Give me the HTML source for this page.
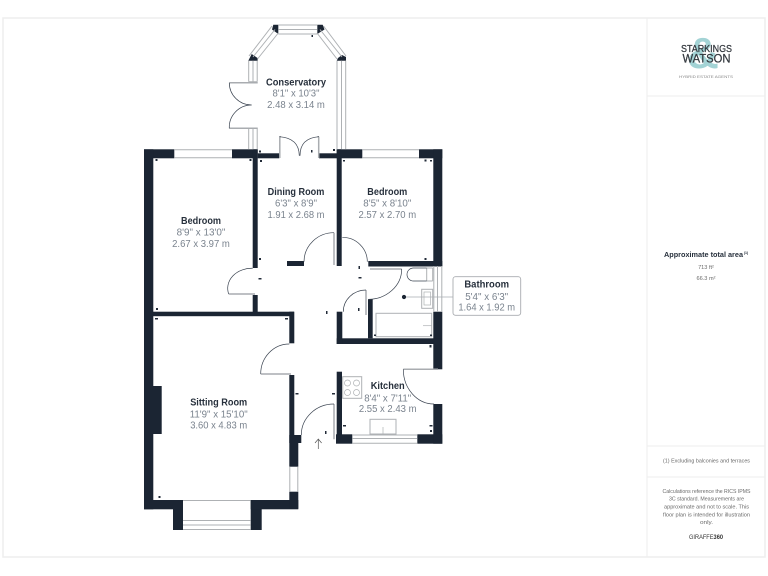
<!DOCTYPE html>
<html><head><meta charset="utf-8"><style>
html,body{margin:0;padding:0;background:#fff;width:768px;height:576px;overflow:hidden}
svg{display:block;filter:blur(.35px)}
text{font-family:"Liberation Sans",sans-serif;text-anchor:middle}
.t{font-size:10px;font-weight:bold;fill:#27303c}
.v{font-size:10px;fill:#7a838e}
.p{font-size:5.6px;fill:#6a6a6a}
</style></head><body>
<svg width="768" height="576" viewBox="0 0 768 576" xmlns="http://www.w3.org/2000/svg">
<rect width="768" height="576" fill="#fff"/>
<rect x="3" y="18" width="762" height="539" fill="none" stroke="#eeeeee" stroke-width="1.5"/>
<g stroke="#eeeeee" stroke-width="1"><path d="M647 18V557M647 96H765M647 446H765M647 477H765" fill="none"/></g>

<!-- Walls -->
<g fill="#1b2533">
<rect x="144" y="149.3" width="30.3" height="9"/>
<rect x="232" y="149.3" width="25.7" height="9"/>
<rect x="144" y="149.3" width="9.3" height="360"/>
<rect x="144" y="500" width="39" height="9.3"/>
<rect x="173" y="500" width="10" height="30"/>
<rect x="250.7" y="500" width="11" height="30"/>
<rect x="250.7" y="500" width="47.6" height="9.3"/>
<rect x="289.3" y="491.7" width="9" height="17"/>
<rect x="289.3" y="435" width="9" height="31.7"/>
<rect x="289.3" y="435" width="12" height="8"/>
<rect x="289.3" y="375" width="5" height="60"/>
<rect x="153" y="311.7" width="141" height="4.5"/>
<rect x="289.3" y="311.7" width="5" height="31.6"/>
<rect x="153" y="386" width="8.7" height="48"/>
<rect x="252.7" y="149.3" width="5" height="118.7"/>
<rect x="252.7" y="295" width="5" height="17"/>
<rect x="257.7" y="153.3" width="21.6" height="5"/>
<rect x="319" y="153.3" width="18" height="5"/>
<rect x="336.7" y="149.3" width="5" height="116.7"/>
<rect x="336.7" y="149.3" width="25.6" height="9"/>
<rect x="419" y="149.3" width="23.3" height="9"/>
<rect x="433.3" y="149.3" width="9" height="117"/>
<rect x="368.3" y="261" width="74" height="5.5"/>
<rect x="287" y="261" width="17" height="5"/>
<rect x="433.3" y="311.7" width="9" height="57.6"/>
<rect x="336.7" y="338.3" width="105" height="5.7"/>
<rect x="336.7" y="311.7" width="5.6" height="32.3"/>
<rect x="368" y="299.3" width="4.7" height="39"/>
<rect x="336.7" y="371.7" width="5.3" height="71.6"/>
<rect x="336" y="434.3" width="16.3" height="9.4"/>
<rect x="417.3" y="434.3" width="25" height="9.4"/>
<rect x="433.3" y="404" width="9" height="39.7"/>
<!-- conservatory corners -->
<polygon points="273.3,24.7 278.3,24.7 278.3,34 272,29.5"/>
<polygon points="322.7,24.7 317.3,24.7 317.3,34 324.5,29.5"/>
<polygon points="248.3,60.7 257.7,60.7 257.5,58 251.7,54"/>
<polygon points="336.7,60.7 346,60.7 346,57 342,55 338,58"/>
</g>

<!-- Windows & conservatory -->
<g fill="none" stroke="#aeb1b4" stroke-width="1">
<path d="M174.3 149.8H232M174.3 157.8H232M362.3 149.8H419M362.3 157.8H419"/>
<path d="M352.3 435H417.3M352.3 438.5H417.3M352.3 443.2H417.3"/>
<path d="M183 500.5H250.7M183 520.5H250.7M183 525H250.7M183 529.5H250.7"/>
<path d="M289.8 466.7V491.7M297.8 466.7V491.7"/>
<path d="M433.8 266V312M437.5 266V312M441.8 266V312"/>
<!-- conservatory -->
<path d="M278.3 25H317.3M278.3 29.5H317.3M278.3 34H317.3"/>
<path d="M272 26 249 56M275 29.5 253 57M278.3 33 257.5 59"/>
<path d="M323.5 26 346 56M320 29.5 342 57M317 33 337 59"/>
<path d="M248.7 60.7V81.7M253 60.7V81.7M257.2 60.7V81.7M248.7 81.7H257.2"/>
<path d="M248.7 128.3V149.3M253 128.3V149.3M257.2 128.3V149.3"/>
<path d="M337 60.7V149.3M341.5 60.7V149.3M345.7 60.7V149.3"/>
<!-- fixtures -->
<rect x="342.7" y="376.7" width="19" height="21.6"/>
<circle cx="347.5" cy="383" r="3" stroke-width=".7"/><circle cx="356.5" cy="383" r="3" stroke-width=".7"/>
<circle cx="347.5" cy="392.5" r="3" stroke-width=".7"/><circle cx="356.5" cy="392.5" r="3" stroke-width=".7"/>
<rect x="370" y="419.3" width="26" height="14.7"/>
<path d="M383 427V434" stroke-width=".7"/>
<rect x="376" y="313.3" width="55.7" height="23.4"/>
<path d="M423 325.7H432" stroke-width=".7"/>
<rect x="421.7" y="289.3" width="11" height="19"/>
<rect x="424" y="292" width="6.5" height="13" stroke-width=".7"/>
<path d="M426.7 268V281M432.7 268V281M426.7 268H432.7M426.7 281H432.7"/>
</g>

<!-- Thick door leaves -->
<g fill="none" stroke="#a9acb0" stroke-width="1.5">
<path d="M229.3 82.7H257.7M229.3 128.3H257.7"/>
<path d="M279.8 136.7V158M318.7 136.7V158M279.5 136.7H281M317.5 136.7H319"/>
<path d="M334 232.7V265M228.7 294H255M366 290V315M370 269H401.7M260.7 374H291M403.3 369.3H438M334 404V439.3"/>
</g>
<!-- Door arcs -->
<g fill="none" stroke="#3a4350" stroke-width=".7">
<path d="M229.3 82.7A22.3 22.3 0 0 0 251.7 105A22.3 22.3 0 0 0 229.3 128.3"/>
<path d="M279.3 136.7Q299 138 299.3 155.7M319 136.7Q300 138 300 155.7"/>
<path d="M334 232.7A30 29 0 0 0 304 261.7M342.3 237.3A25 24.4 0 0 1 367.3 261.7"/>
<path d="M252.7 268.3A24 20 0 0 0 228.7 294"/>
<path d="M401.7 269A33.4 30.3 0 0 1 368.3 299.3"/>
<path d="M366 290A22.7 21.7 0 0 0 343.3 311.7"/>
<path d="M289.3 344A28.6 30 0 0 0 260.7 374"/>
<path d="M403.3 369.3A30.7 34.7 0 0 0 434 404"/>
<path d="M334 404A32.7 31 0 0 0 301.3 435"/>
<path d="M407 274.5A6.5 6.5 0 0 0 413.5 281H426.7M407 274.5A6.5 6.5 0 0 1 413 268H426.7"/>
<path d="M318.3 439V449M315 443L318.3 439L321.6 443" stroke="#555"/>
</g>

<!-- Tiny dimension marks -->
<g fill="#222b38">
<rect x="155.5" y="159" width="2" height="2"/><rect x="249.5" y="159" width="2" height="2"/>
<rect x="260" y="160" width="2" height="2"/><rect x="259" y="150.5" width="2" height="2"/>
<rect x="311" y="150" width="1.5" height="2.5"/><rect x="333" y="149" width="2" height="2"/>
<rect x="343" y="160" width="2" height="1.5"/><rect x="424.5" y="159.5" width="2" height="2"/>
<rect x="430" y="160" width="2" height="1.5"/><rect x="424.5" y="258" width="2" height="2"/>
<rect x="259" y="258" width="2" height="2"/><rect x="358.5" y="266" width="1.5" height="3"/>
<rect x="358.5" y="277" width="3" height="1.5"/><rect x="258.5" y="278" width="3" height="1.5"/>
<rect x="326" y="311" width="1.5" height="3"/><rect x="358" y="308" width="1.5" height="3"/>
<rect x="156" y="308" width="2" height="2"/><rect x="155" y="318" width="3" height="1.5"/>
<rect x="285" y="318" width="3" height="1.5"/><rect x="295.5" y="393" width="3" height="1.5"/>
<rect x="332" y="393" width="3" height="1.5"/><rect x="343" y="425" width="3" height="1.5"/>
<rect x="429.5" y="425" width="3" height="1.5"/><rect x="430" y="430" width="2" height="2"/>
<rect x="325" y="431" width="1.5" height="3"/><rect x="158.5" y="496" width="2" height="2"/>
<rect x="429.5" y="345" width="2" height="2.5"/><rect x="374" y="334.5" width="2" height="1.5"/>
<rect x="430" y="334.5" width="2" height="1.5"/><rect x="311.5" y="35" width="1.5" height="2"/>
</g>

<!-- Bathroom callout -->
<path d="M404 297H453" stroke="#a9acb0" stroke-width=".8"/>
<circle cx="404" cy="297" r="2.1" fill="#1b2533"/>
<rect x="453" y="276.7" width="67.7" height="38.6" rx="2.5" fill="#fff" stroke="#a9acb0" stroke-width=".9"/>

<!-- Room labels -->
<text class="t" x="296" y="85.5" textLength="60" lengthAdjust="spacingAndGlyphs">Conservatory</text>
<text class="v" x="296" y="96.5" textLength="47" lengthAdjust="spacingAndGlyphs">8'1" x 10'3"</text>
<text class="v" x="296" y="108" textLength="57.7" lengthAdjust="spacingAndGlyphs">2.48 x 3.14 m</text>

<text class="t" x="296" y="195" textLength="56.7" lengthAdjust="spacingAndGlyphs">Dining Room</text>
<text class="v" x="296" y="206.5" textLength="42" lengthAdjust="spacingAndGlyphs">6'3" x 8'9"</text>
<text class="v" x="296" y="218" textLength="57" lengthAdjust="spacingAndGlyphs">1.91 x 2.68 m</text>

<text class="t" x="387.3" y="195" textLength="40" lengthAdjust="spacingAndGlyphs">Bedroom</text>
<text class="v" x="387.3" y="206.5" textLength="48" lengthAdjust="spacingAndGlyphs">8'5" x 8'10"</text>
<text class="v" x="387.3" y="218" textLength="57.7" lengthAdjust="spacingAndGlyphs">2.57 x 2.70 m</text>

<text class="t" x="201" y="224" textLength="40" lengthAdjust="spacingAndGlyphs">Bedroom</text>
<text class="v" x="201" y="235.5" textLength="48.7" lengthAdjust="spacingAndGlyphs">8'9" x 13'0"</text>
<text class="v" x="201" y="247" textLength="57.7" lengthAdjust="spacingAndGlyphs">2.67 x 3.97 m</text>

<text class="t" x="218.7" y="405.5" textLength="57" lengthAdjust="spacingAndGlyphs">Sitting Room</text>
<text class="v" x="218.7" y="417.5" textLength="58" lengthAdjust="spacingAndGlyphs">11'9" x 15'10"</text>
<text class="v" x="218.7" y="428.5" textLength="57" lengthAdjust="spacingAndGlyphs">3.60 x 4.83 m</text>

<text class="t" x="387.7" y="389" textLength="34" lengthAdjust="spacingAndGlyphs">Kitchen</text>
<text class="v" x="387.7" y="401.5" textLength="47" lengthAdjust="spacingAndGlyphs">8'4" x 7'11"</text>
<text class="v" x="387.7" y="412" textLength="57.7" lengthAdjust="spacingAndGlyphs">2.55 x 2.43 m</text>

<text class="t" x="486.7" y="287.7" textLength="44.7" lengthAdjust="spacingAndGlyphs">Bathroom</text>
<text class="v" x="486.7" y="300" textLength="43" lengthAdjust="spacingAndGlyphs">5'4" x 6'3"</text>
<text class="v" x="486.7" y="310.5" textLength="56.7" lengthAdjust="spacingAndGlyphs">1.64 x 1.92 m</text>

<!-- Logo -->
<text x="703" y="68" font-size="44" font-weight="bold" fill="#a3d3d5">&amp;</text>
<text x="706.5" y="52" font-size="10" fill="#33383e" stroke="#33383e" stroke-width=".25" textLength="51" lengthAdjust="spacingAndGlyphs">STARKINGS</text>
<text x="706.5" y="62.5" font-size="12" fill="#33383e" stroke="#33383e" stroke-width=".25" textLength="48" lengthAdjust="spacingAndGlyphs">WATSON</text>
<text x="706" y="78" font-size="4" fill="#888" textLength="54" lengthAdjust="spacingAndGlyphs">HYBRID ESTATE AGENTS</text>

<!-- Panel text -->
<text x="703.5" y="257" font-size="7.3" font-weight="bold" fill="#27303c" textLength="79" lengthAdjust="spacingAndGlyphs">Approximate total area</text>
<text x="746" y="254" font-size="3.5" font-weight="bold" fill="#27303c">(1)</text>
<text class="p" x="706" y="269">713 ft²</text>
<text class="p" x="706" y="280">66.3 m²</text>
<text class="p" x="706.5" y="462.5" textLength="87" lengthAdjust="spacingAndGlyphs">(1) Excluding balconies and terraces</text>
<text class="p" x="706.5" y="493" textLength="88" lengthAdjust="spacingAndGlyphs">Calculations reference the RICS IPMS</text>
<text class="p" x="706.5" y="500.5" textLength="75" lengthAdjust="spacingAndGlyphs">3C standard. Measurements are</text>
<text class="p" x="706.5" y="508.5" textLength="85" lengthAdjust="spacingAndGlyphs">approximate and not to scale. This</text>
<text class="p" x="706.5" y="516.5" textLength="87" lengthAdjust="spacingAndGlyphs">floor plan is intended for illustration</text>
<text class="p" x="706.5" y="524" textLength="13" lengthAdjust="spacingAndGlyphs">only.</text>
<text x="706" y="539" font-size="6" fill="#333" textLength="34" lengthAdjust="spacingAndGlyphs">GIRAFFE<tspan font-weight="bold">360</tspan></text>
</svg>
</body></html>
